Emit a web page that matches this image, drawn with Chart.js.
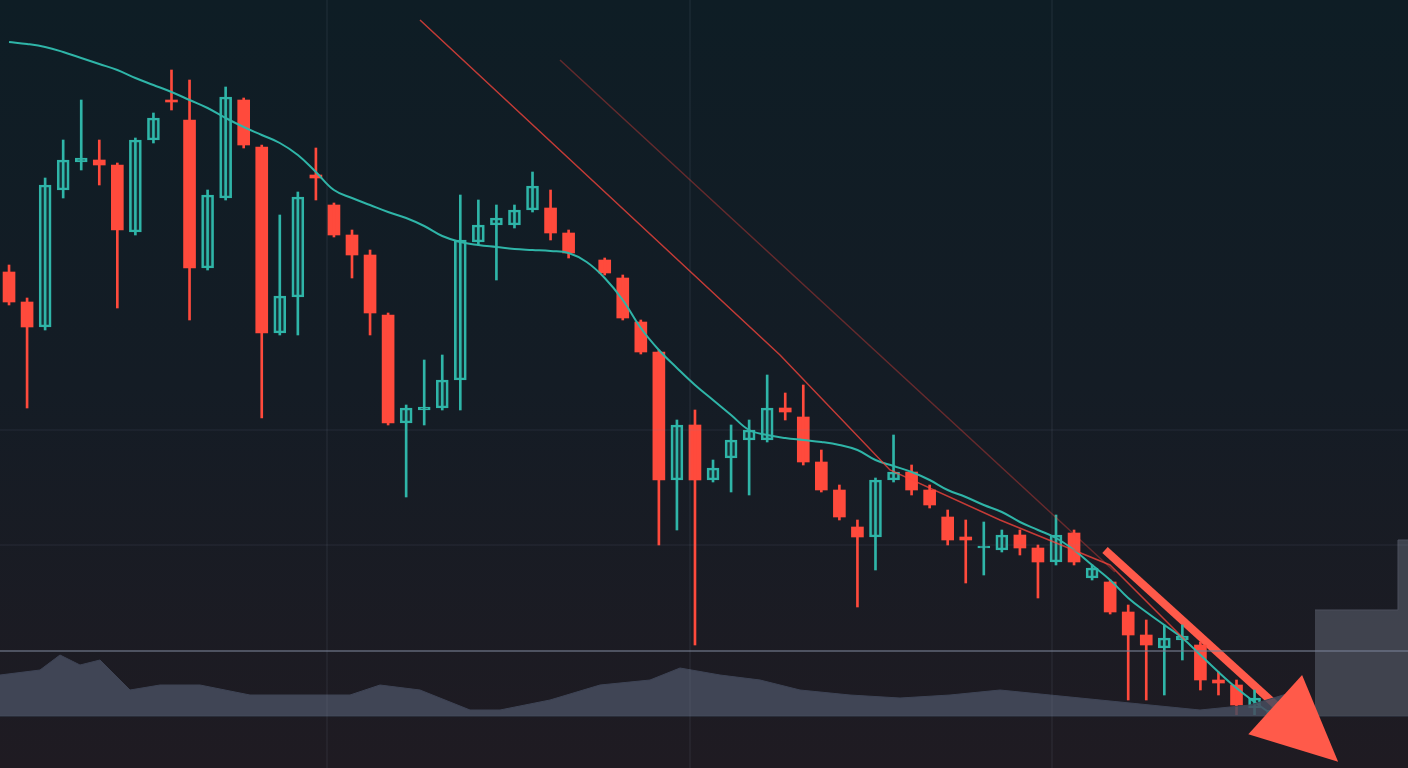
<!DOCTYPE html>
<html><head><meta charset="utf-8">
<script src="https://cdn.jsdelivr.net/npm/chart.js@4.4.0/dist/chart.umd.min.js"></script>
<style>
html,body{margin:0;padding:0;width:1408px;height:768px;overflow:hidden;background:linear-gradient(180deg,#0e1d25 0%,#141c25 50%,#1f1b22 100%);}
#c{display:block;width:1408px;height:768px}
</style></head><body>
<canvas id="c" width="1408" height="768"></canvas>
<script>
// Price values expressed on an inverted scale (0 top .. 768 bottom)
const opens  = [272,302,327,190,162,160,165,232,140,100,120,268,198,100,147,333,297,175,205,235,255,315,423,410,408,380,242,225,225,210,208,233,null,260,278,322,352,480,425,480,458,440,440,408,417,462,490,527,537,480,472,490,517,537,548,550,535,548,562,533,578,582,612,635,648,640,645,680,685,708,716];
const closes = [302,327,185,160,158,165,230,140,118,102,268,195,97,145,333,296,197,178,235,255,313,423,408,407,380,240,225,218,210,186,233,253,null,273,318,352,480,425,480,468,440,430,408,412,462,490,517,537,480,472,490,505,540,540,546,535,548,562,535,562,568,612,635,645,638,636,680,683,705,698,710];
const highs  = [265,298,178,140,100,140,163,138,113,70,80,190,87,98,145,215,192,148,203,230,250,313,405,360,355,195,200,205,205,172,190,230,null,258,275,320,350,420,410,460,425,420,375,393,385,450,485,520,478,435,465,485,510,520,522,530,530,545,515,530,565,580,605,620,625,625,642,672,680,690,708];
const lows   = [305,408,330,198,170,185,308,235,143,110,320,270,200,148,418,335,335,200,237,278,335,425,497,425,410,410,245,280,228,212,240,258,null,275,320,354,545,530,645,482,492,495,442,420,465,492,520,607,570,482,495,508,545,583,575,552,555,598,565,565,580,614,700,700,695,660,690,695,715,715,718];
const maLine = [42,44,47,52,58,64,70,78,85,92,100,108,118,127,135,143,155,172,190,198,205,212,218,226,236,242,245,247,249,250,251,253,262,278,300,328,350,368,385,400,415,430,435,438,440,442,445,450,460,466,472,480,490,497,505,512,522,530,538,550,565,580,598,612,625,638,655,672,688,702,715];
const volX = [0,40,60,80,100,130,160,200,250,300,350,380,420,470,500,550,600,650,680,720,760,800,850,900,950,1000,1050,1100,1150,1200,1250,1300];
const volY = [675,670,655,665,660,690,685,685,695,695,695,685,690,710,710,700,685,680,668,675,680,690,695,698,695,690,695,700,705,710,705,690];
const trend1X = [420,780,890,1000,1110,1185], trend1Y = [20,355,470,520,565,640];
const trend2X = [560,1115], trend2Y = [60,572];
const arrowX = [1105,1290], arrowY = [550,718];
const gridX = [327,690,1052], gridY = [430,545];

const N = 78;
const labels = Array.from({length:N},(_,i)=>i);
const RED='#ff4a3c', TEAL='#2fb5a8';
const isDown = opens.map((o,i)=>o!==null && closes[i]>=o);
const bodies = opens.map((o,i)=>o===null?null:[o, closes[i]===o?o+2:closes[i]]);
const wicks = highs.map((h,i)=>h===null?null:[h,lows[i]]);
const pts=(xs,ys)=>xs.map((x,i)=>({x,y:ys[i]}));

const arrowHead = {id:'arrowHead',afterDatasetsDraw(ch){
  const xs=ch.scales.x2, ys=ch.scales.y, c=ch.ctx;
  const x1=xs.getPixelForValue(arrowX[1]),y1=ys.getPixelForValue(arrowY[1]);
  const x0=xs.getPixelForValue(arrowX[0]),y0=ys.getPixelForValue(arrowY[0]);
  const a=Math.atan2(y1-y0,x1-x0), L=85, W=40;
  c.save();c.fillStyle='#ff5a4a';c.beginPath();
  const tx=x1+Math.cos(a)*65, ty=y1+Math.sin(a)*65;
  c.moveTo(tx,ty);
  c.lineTo(tx-Math.cos(a)*L-Math.sin(a)*W, ty-Math.sin(a)*L+Math.cos(a)*W);
  c.lineTo(tx-Math.cos(a)*L+Math.sin(a)*W, ty-Math.sin(a)*L-Math.cos(a)*W);
  c.closePath();c.fill();c.restore();
}};

const lineDs=(data,color,w,extra={})=>Object.assign({type:'line',xAxisID:'x2',data,borderColor:color,borderWidth:w,pointRadius:0,fill:false,tension:0},extra);

const datasets=[
  ...gridX.map(x=>lineDs([{x,y:0},{x,y:768}],'rgba(120,140,160,0.12)',1.5)),
  ...gridY.map(y=>lineDs([{x:0,y},{x:1408,y}],'rgba(120,140,160,0.10)',1.5)),
  lineDs([{x:0,y:651},{x:1408,y:651}],'rgba(120,130,150,0.55)',2),
  lineDs(pts(volX,volY),'#3e4455',1,{fill:{value:716},backgroundColor:'rgba(70,76,94,0.85)'}),
  lineDs([{x:1315,y:610},{x:1398,y:610},{x:1398,y:540},{x:1408,y:540}],'#4a4f5c',1,{fill:{value:716},backgroundColor:'rgba(70,74,86,0.85)'}),
  lineDs([{x:0,y:716},{x:1408,y:716}],'#2a2e3a',2),
  lineDs(pts(trend2X,trend2Y),'rgba(255,70,60,0.35)',1.5),
  lineDs(pts(trend1X,trend1Y),'rgba(255,70,60,0.75)',1.5),
  {type:'line',data:maLine,borderColor:TEAL,borderWidth:2,pointRadius:0,tension:0.4,fill:false},
  {type:'bar',data:wicks,backgroundColor:isDown.map(d=>d?RED:TEAL),barThickness:2,grouped:false},
  {type:'bar',data:bodies,backgroundColor:isDown.map(d=>d?RED:'rgba(47,181,168,0.12)'),borderColor:isDown.map(d=>d?RED:TEAL),borderWidth:isDown.map(d=>d?0:2),borderSkipped:false,barThickness:12,grouped:false},
  lineDs(pts(arrowX,arrowY),'#ff5a4a',8),
];

new Chart(document.getElementById('c'),{
  type:'bar',
  data:{labels,datasets},
  options:{responsive:false,animation:false,
    layout:{padding:0},
    plugins:{legend:{display:false},tooltip:{enabled:false}},
    scales:{
      x:{display:false,offset:true},
      x2:{type:'linear',display:false,min:0,max:1408,offset:false},
      y:{display:false,reverse:true,min:0,max:768}
    }},
  plugins:[arrowHead]
});
</script></body></html>
